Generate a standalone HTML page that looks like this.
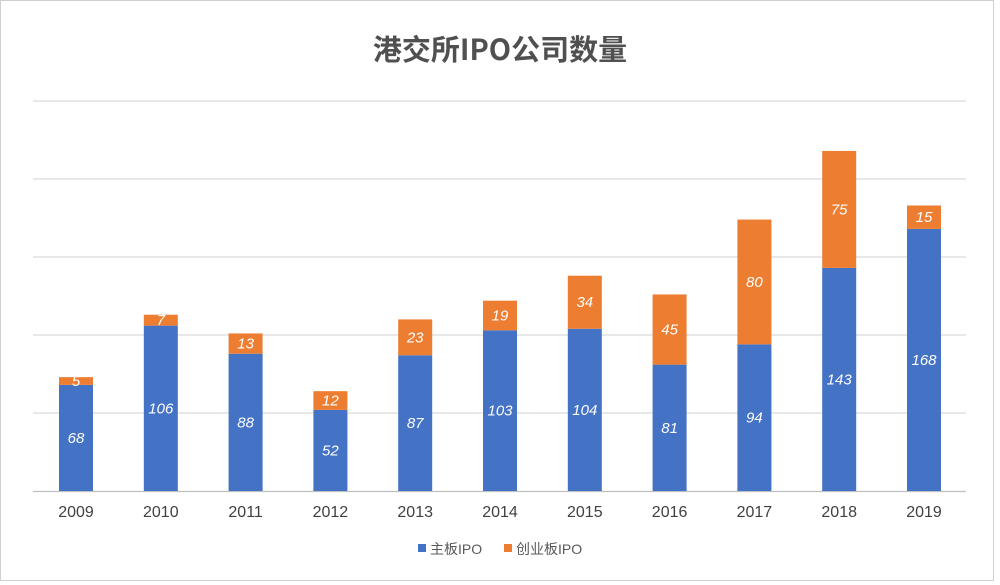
<!DOCTYPE html>
<html><head><meta charset="utf-8"><style>
body{margin:0;background:#fff;}
svg{display:block;font-family:"Liberation Sans","Noto Sans CJK SC",sans-serif;}
</style></head><body>
<svg width="1000" height="585" viewBox="0 0 1000 585">
<rect x="0.5" y="0.5" width="993" height="580" fill="#fff" stroke="#d0d0d0"/>
<text x="500" y="60" text-anchor="middle" font-size="29" font-weight="bold" fill="#505050" font-family="Noto Sans CJK SC, sans-serif">港交所IPO公司数量</text>
<g stroke="#d9d9d9" stroke-width="1.3">
<line x1="33" x2="966" y1="101" y2="101"/><line x1="33" x2="966" y1="179" y2="179"/>
<line x1="33" x2="966" y1="257" y2="257"/><line x1="33" x2="966" y1="335" y2="335"/>
<line x1="33" x2="966" y1="413" y2="413"/>
</g>
<line x1="33" x2="966" y1="491.5" y2="491.5" stroke="#bfbfbf" stroke-width="1.3"/>
<g id="bars"></g>
<g font-size="16" fill="#404040" text-anchor="middle" id="years"></g>
<rect x="418" y="544" width="8" height="8" fill="#4472c4"/>
<text x="430" y="554" font-size="14" fill="#595959">主板IPO</text>
<rect x="504" y="544" width="8" height="8" fill="#ed7d31"/>
<text x="516" y="554" font-size="14" fill="#595959">创业板IPO</text>
</svg>
<script>
var d=[[68,5],[106,7],[88,13],[52,12],[87,23],[103,19],[104,34],[81,45],[94,80],[143,75],[168,15]];
var ns="http://www.w3.org/2000/svg",g=document.getElementById('bars'),yg=document.getElementById('years');
function el(t,a,p,tx){var e=document.createElementNS(ns,t);for(var k in a)e.setAttribute(k,a[k]);if(tx!==undefined)e.textContent=tx;p.appendChild(e);return e;}
var base=491,s=1.56;
d.forEach(function(v,i){
 var cx=76+i*84.8,w=34,h1=v[0]*s,h2=v[1]*s;
 el('rect',{x:cx-w/2,y:base-h1,width:w,height:h1,fill:'#4472c4'},g);
 el('rect',{x:cx-w/2,y:base-h1-h2,width:w,height:h2,fill:'#ed7d31'},g);
 el('text',{x:cx,y:base-h1/2+5,'font-size':15,fill:'#fff','font-style':'italic','text-anchor':'middle'},g,v[0]);
 el('text',{x:cx,y:base-h1-h2/2+5,'font-size':15,fill:'#fff','font-style':'italic','text-anchor':'middle'},g,v[1]);
 el('text',{x:cx,y:517},yg,2009+i);
});
</script>
</body></html>
